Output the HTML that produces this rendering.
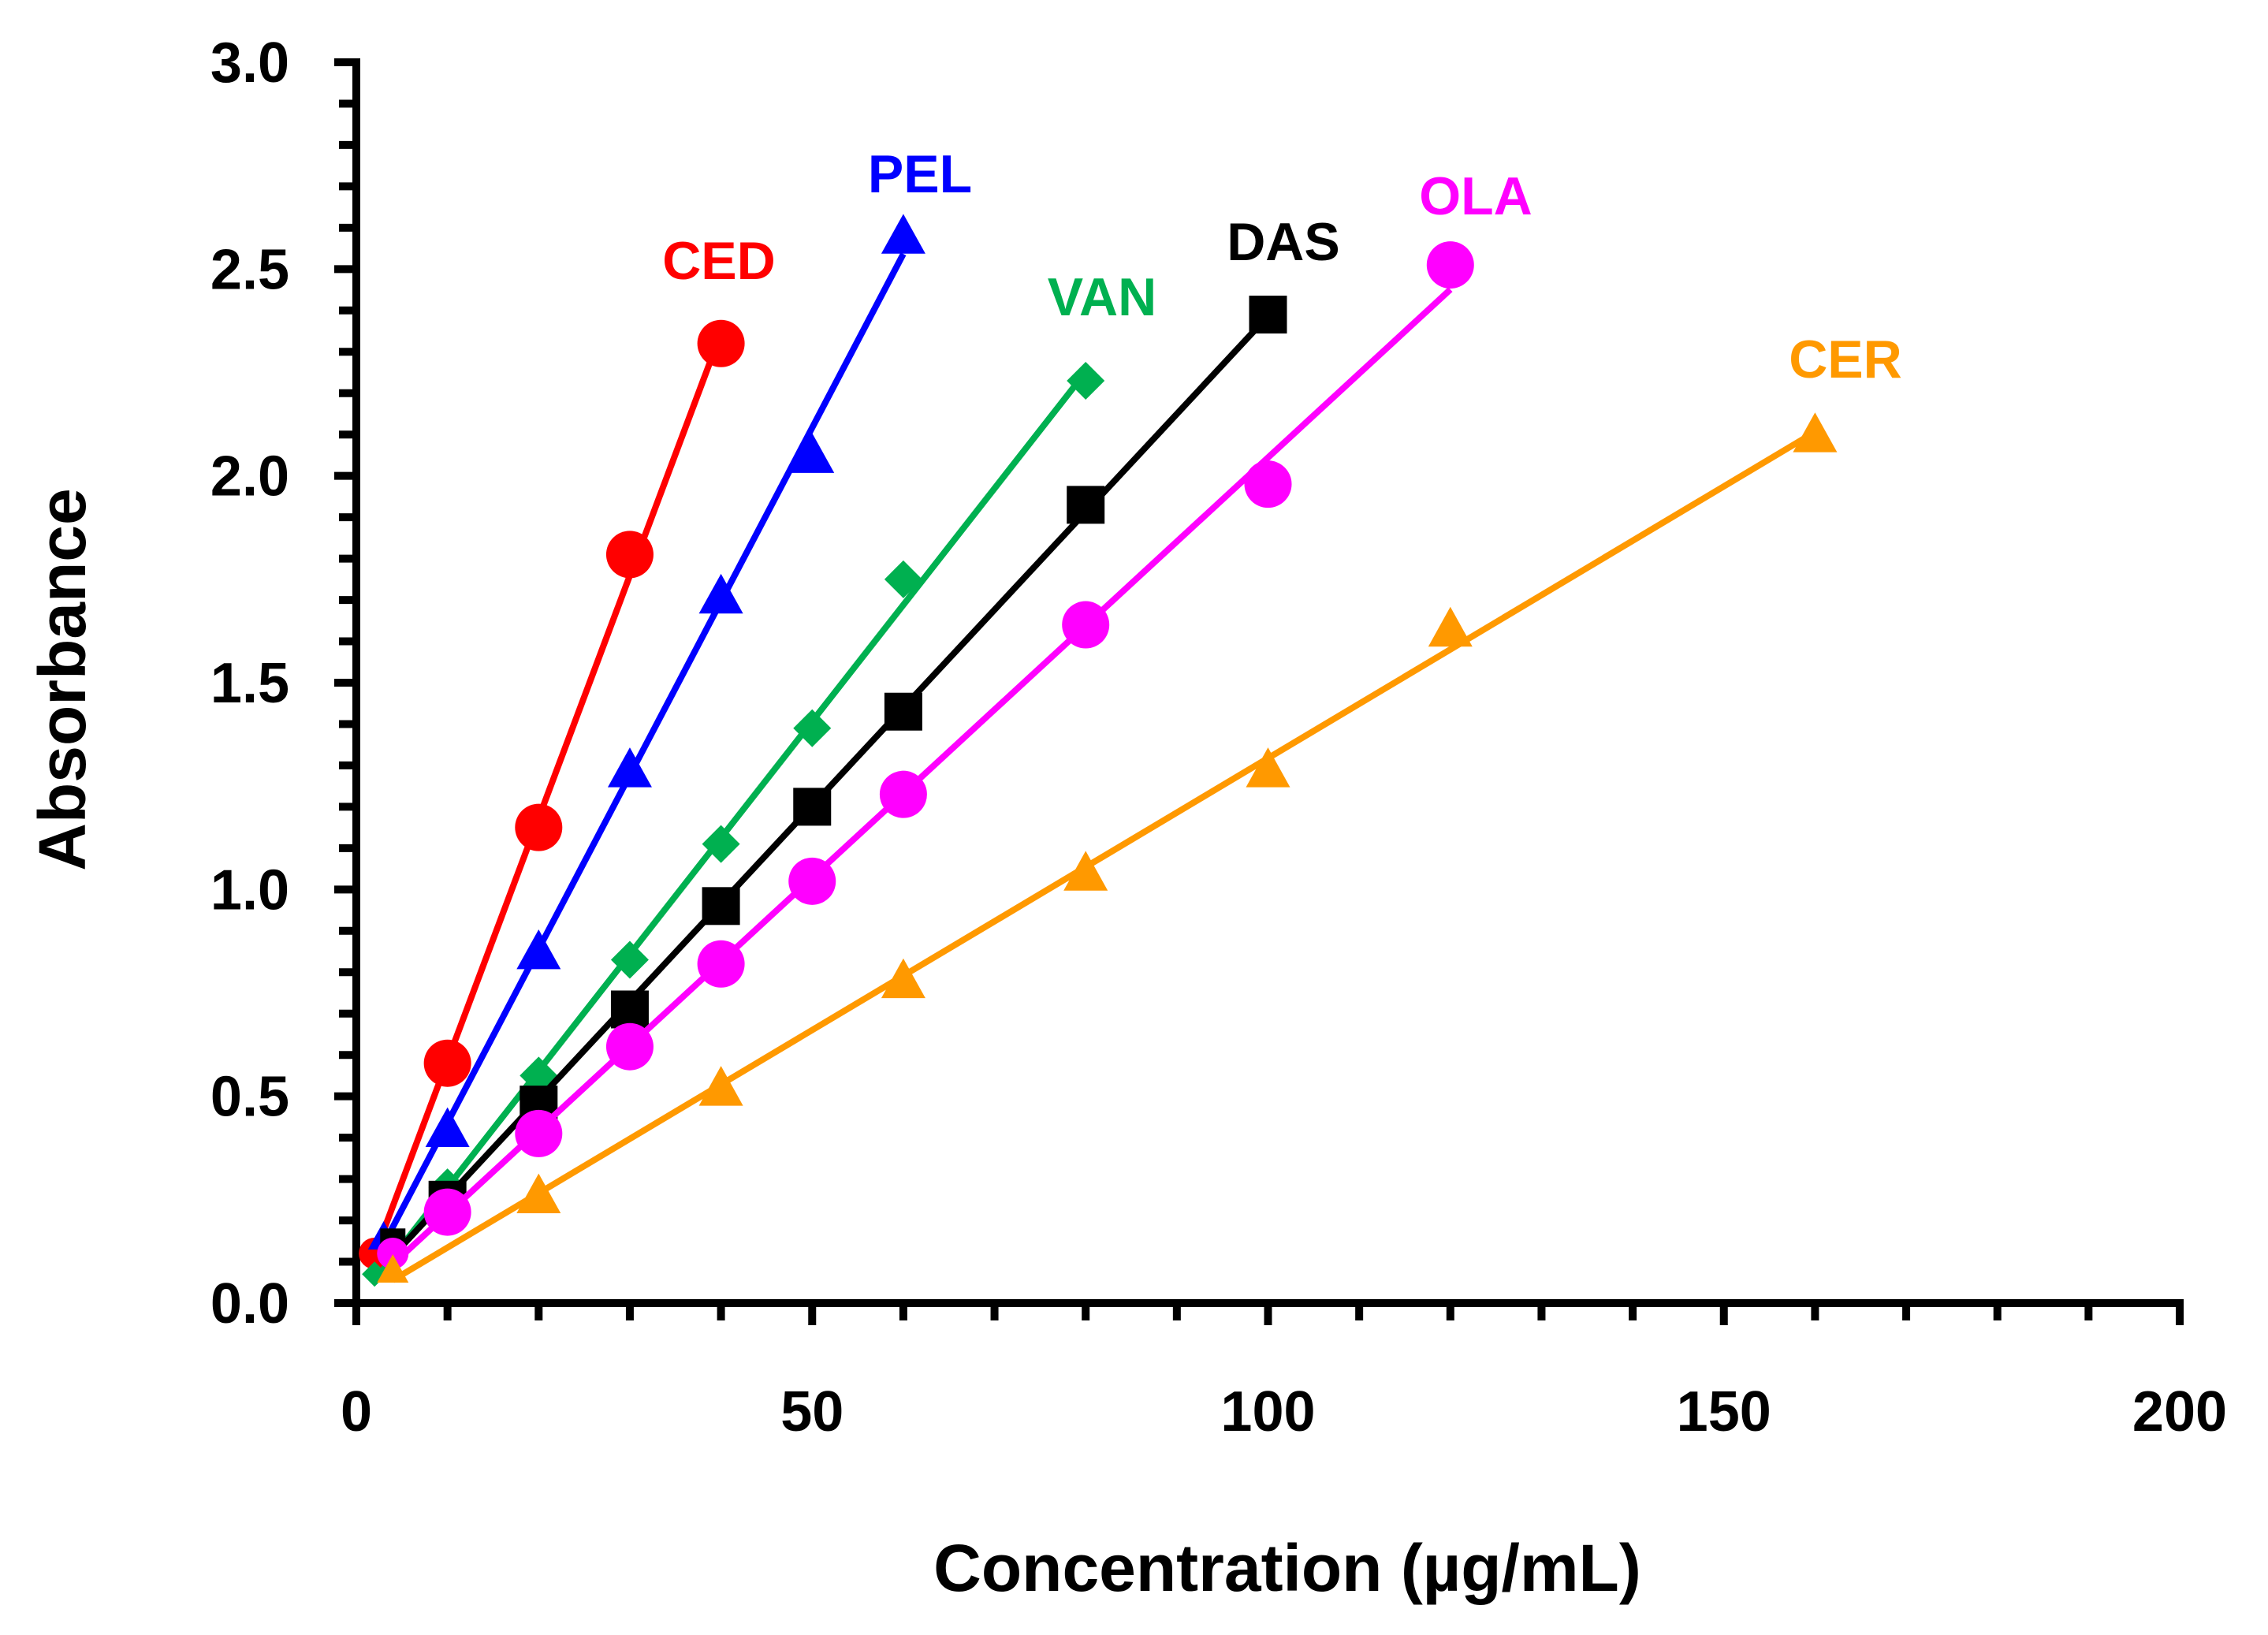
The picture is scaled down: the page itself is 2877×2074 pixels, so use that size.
<!DOCTYPE html>
<html><head><meta charset="utf-8"><style>
html,body{margin:0;padding:0;background:#fff;}
svg{display:block;}
text{font-family:"Liberation Sans",sans-serif;font-weight:bold;}
</style></head><body>
<svg id="chart" width="2877" height="2074" viewBox="0 0 2877 2074" xmlns="http://www.w3.org/2000/svg">
<g id="axes"></g>
<g id="series"></g>
<text x="1633" y="2018" font-size="84" text-anchor="middle">Concentration (µg/mL)</text>
<text x="0" y="0" font-size="84" text-anchor="middle" transform="translate(108,862) rotate(-90)">Absorbance</text>
</svg>
<script>
const xTicks = [0, 50, 100, 150, 200];
const yTicks = ["0.0", "0.5", "1.0", "1.5", "2.0", "2.5", "3.0"];
const seriesNames = ["CED", "PEL", "VAN", "DAS", "OLA", "CER"];
const cedX = [2, 10, 20, 30, 40];
const cedY = [0.12, 0.58, 1.15, 1.81, 2.32];
const pelX = [3, 10, 20, 30, 40, 50, 60];
const pelY = [0.16, 0.42, 0.85, 1.29, 1.71, 2.05, 2.58];
const vanX = [2, 10, 20, 30, 40, 50, 60, 80];
const vanY = [0.07, 0.28, 0.55, 0.83, 1.11, 1.39, 1.75, 2.23];
const dasX = [4, 10, 20, 30, 40, 50, 60, 80, 100];
const dasY = [0.15, 0.25, 0.48, 0.71, 0.96, 1.20, 1.43, 1.93, 2.39];
const olaX = [4, 10, 20, 30, 40, 50, 60, 80, 100, 120];
const olaY = [0.12, 0.22, 0.41, 0.62, 0.82, 1.02, 1.23, 1.64, 1.98, 2.51];
const cerX = [4, 20, 40, 60, 80, 100, 120, 160];
const cerY = [0.08, 0.26, 0.52, 0.78, 1.04, 1.29, 1.63, 2.10];

const NS = "http://www.w3.org/2000/svg";
const X0 = 452, X1 = 2765, Y0 = 1653, Y1 = 79;
function sx(v){ return X0 + (v / 200) * (X1 - X0); }
function sy(v){ return Y0 - (v / 3) * (Y0 - Y1); }
function mk(tag, attrs, parent){
  const e = document.createElementNS(NS, tag);
  for (const k in attrs) e.setAttribute(k, attrs[k]);
  parent.appendChild(e);
  return e;
}
const axes = document.getElementById('axes');
const ser = document.getElementById('series');

let a = mk('line', {x1: X0, y1: Y1 - 5, x2: X0, y2: Y0 + 5, stroke: '#000', 'stroke-width': 10}, axes);


a = mk('line', {x1: X0 - 5, y1: Y0, x2: X1 + 5, y2: Y0, stroke: '#000', 'stroke-width': 10}, axes);



for (let i = 0; i <= 30; i++) {
  const y = sy(i / 10);
  const len = (i % 5 === 0) ? 28 : 22;
  const t = mk('line', {x1: X0 - len, y1: y, x2: X0, y2: y, stroke: '#000', 'stroke-width': 10}, axes);
  
  
}
for (let i = 0; i <= 20; i++) {
  const x = sx(i * 10);
  const len = (i % 5 === 0) ? 28 : 22;
  const t = mk('line', {x1: x, y1: Y0, x2: x, y2: Y0 + len, stroke: '#000', 'stroke-width': 10}, axes);
  
  
}
yTicks.forEach(function(lbl){
  const t = mk('text', {x: 367, y: sy(parseFloat(lbl)) + 25, 'font-size': 72, 'text-anchor': 'end'}, axes);
  t.textContent = lbl;
  
  
});
xTicks.forEach(function(v){
  const t = mk('text', {x: sx(v), y: 1815, 'font-size': 72, 'text-anchor': 'middle'}, axes);
  t.textContent = v;
  
  
});

const colors = ["#ff0000", "#0000ff", "#00b050", "#000000", "#ff00ff", "#ff9900"];
const markers = ["circle", "triangle", "diamond", "square", "circle", "triangle"];
const labelPos = [[912,330],[1167,220],[1398,376],[1628,306],[1872,248],[2341,455]];
const allX = [cedX, pelX, vanX, dasX, olaX, cerX];
const allY = [cedY, pelY, vanY, dasY, olaY, cerY];

function fit(xs, ys){
  const n = xs.length;
  let mx = 0, my = 0;
  for (let i = 0; i < n; i++){ mx += xs[i]; my += ys[i]; }
  mx /= n; my /= n;
  let num = 0, den = 0;
  for (let i = 0; i < n; i++){ num += (xs[i]-mx)*(ys[i]-my); den += (xs[i]-mx)*(xs[i]-mx); }
  const m = num / den;
  return [m, my - m * mx];
}

seriesNames.forEach(function(name, s){
  const g = mk('g', {}, ser);
  
  
  const xs = allX[s], ys = allY[s], c = colors[s];
  const f = fit(xs, ys);
  const xa = xs[0], xb = xs[xs.length - 1];
  const ln = mk('line', {x1: sx(xa), y1: sy(f[0]*xa + f[1]), x2: sx(xb), y2: sy(f[0]*xb + f[1]), stroke: c, 'stroke-width': 8}, g);
  
  
  xs.forEach(function(xv, i){
    const px = sx(xv), py = sy(ys[i]);
    const small = xv < 5;
    let m;
    if (markers[s] === 'circle') {
      m = mk('circle', {cx: px, cy: py, r: small ? 20 : 30, fill: c}, g);
    } else if (markers[s] === 'triangle') {
      const h = small ? 20 : 28;
      m = mk('polygon', {points: (px)+','+(py-h)+' '+(px+h)+','+(py+h*0.8)+' '+(px-h)+','+(py+h*0.8), fill: c}, g);
    } else if (markers[s] === 'diamond') {
      const h = small ? 16 : 24;
      m = mk('polygon', {points: px+','+(py-h)+' '+(px+h)+','+py+' '+px+','+(py+h)+' '+(px-h)+','+py, fill: c}, g);
    } else {
      const h = small ? 16 : 24;
      m = mk('rect', {x: px-h, y: py-h, width: 2*h, height: 2*h, fill: c}, g);
    }
    
    
  });
  const lbl = mk('text', {x: labelPos[s][0], y: labelPos[s][1] + 24, 'font-size': 68, 'text-anchor': 'middle', fill: c}, g);
  lbl.textContent = name;
  
  
});
</script>
</body></html>
